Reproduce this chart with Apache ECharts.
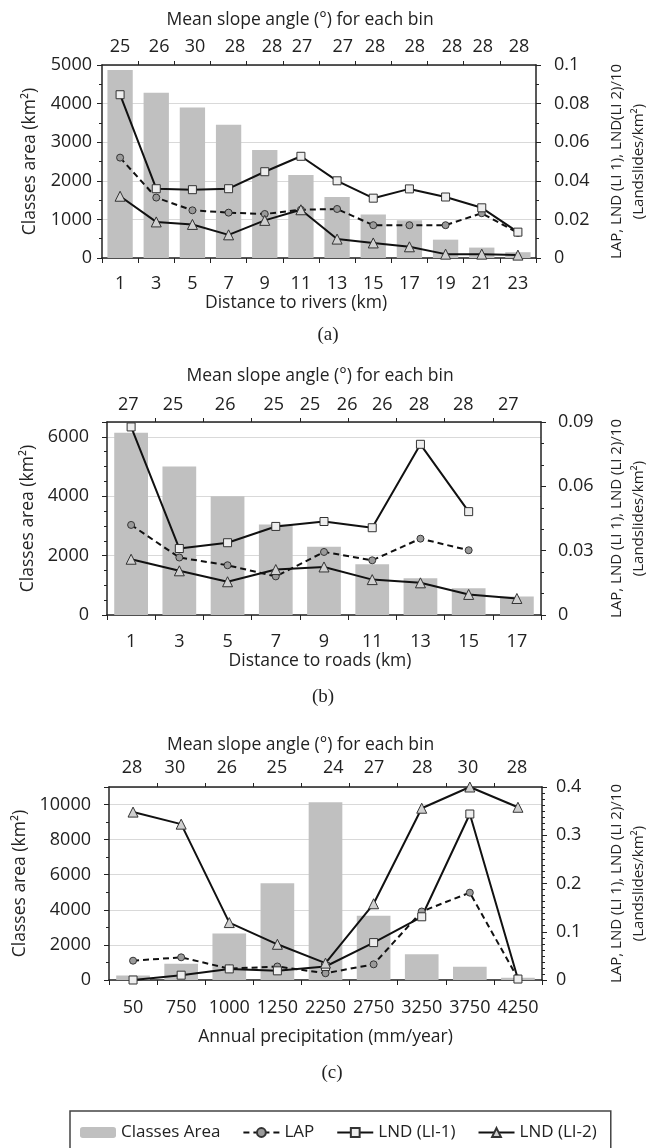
<!DOCTYPE html>
<html lang="en">
<head>
<meta charset="UTF-8">
<title>Classes area and landslide density per bin</title>
<script src="https://cdn.jsdelivr.net/npm/echarts@6/dist/echarts.min.js"></script>
<style>
    html, body { margin: 0; padding: 0; background: #fff; }
    #main { width: 659px; height: 1148px; }
</style>
</head>
<body>
<div id="main"></div>
<script type="text/javascript">
    // (a) distance to rivers
    var riverKm = ['1', '3', '5', '7', '9', '11', '13', '15', '17', '19', '21', '23'];
    var riverArea = [4870, 4280, 3900, 3450, 2800, 2150, 1580, 1130, 980, 475, 270, 150];
    var riverLAP = [0.052, 0.0313, 0.0247, 0.0235, 0.0228, 0.025, 0.0254, 0.017, 0.017, 0.017, 0.0232, 0.013];
    var riverLI1 = [0.0846, 0.0359, 0.0354, 0.0359, 0.0447, 0.0527, 0.040, 0.031, 0.0358, 0.0316, 0.026, 0.0134];
    var riverLI2 = [0.032, 0.0187, 0.0174, 0.012, 0.0195, 0.025, 0.0098, 0.0078, 0.0058, 0.002, 0.002, 0.0015];
    var riverSlope = ['25', '26', '30', '28', '28', '27', '27', '28', '28', '28', '28', '28'];
    var riverSlopePos = [0.5, 1.58, 2.57, 3.68, 4.7, 5.53, 6.66, 7.55, 8.65, 9.68, 10.53, 11.53];

    // (b) distance to roads
    var roadKm = ['1', '3', '5', '7', '9', '11', '13', '15', '17'];
    var roadArea = [6140, 5000, 4000, 3050, 2300, 1710, 1240, 900, 620];
    var roadLAP = [0.042, 0.0268, 0.0232, 0.018, 0.0294, 0.0255, 0.0356, 0.0302, null];
    var roadLI1 = [0.0877, 0.031, 0.0337, 0.0413, 0.0436, 0.0407, 0.0796, 0.0482, null];
    var roadLI2 = [0.026, 0.0206, 0.0155, 0.0212, 0.0224, 0.0165, 0.015, 0.0096, 0.0077];
    var roadSlope = ['27', '25', '26', '25', '25', '26', '26', '28', '28', '27'];
    var roadSlopePos = [0.44, 1.37, 2.45, 3.46, 4.21, 4.98, 5.71, 6.47, 7.39, 8.32];

    // (c) annual precipitation
    var rainMm = ['50', '750', '1000', '1250', '2250', '2750', '3250', '3750', '4250'];
    var rainArea = [250, 920, 2650, 5520, 10130, 3660, 1470, 760, 130];
    var rainLAP = [0.040, 0.047, 0.0235, 0.028, 0.014, 0.0325, 0.142, 0.181, 0.003];
    var rainLI1 = [0, 0.010, 0.023, 0.019, 0.028, 0.0775, 0.131, 0.344, 0.002];
    var rainLI2 = [0.348, 0.323, 0.119, 0.074, 0.035, 0.158, 0.356, 0.4, 0.358];
    var rainSlope = ['28', '30', '26', '25', '24', '27', '28', '30', '28'];
    var rainSlopePos = [0.48, 1.37, 2.45, 3.49, 4.66, 5.51, 6.51, 7.46, 8.48];

    var FONT = '"Open Sans", sans-serif';
    var INK = '#222';
    var TICK_FS = 18;
    var NAME_FS = 17.5;

    var chartDom = document.getElementById('main');
    var myChart = echarts.init(chartDom, null, {renderer: 'canvas'});

    var grid = [], xAxis = [], yAxis = [], series = [];

    function addPanel(p) {
        var gi = grid.length;
        grid.push({left: p.left, right: 659 - p.right, top: p.top, height: 193});

        var bounds = [];
        for (var i = 1; i < p.cats.length; i++) bounds.push(i);

        var xb = xAxis.length;
        xAxis.push({
            type: 'category', gridIndex: gi, position: 'bottom', data: p.cats,
            axisLine: {onZero: false, lineStyle: {color: INK, width: 1.5}},
            axisTick: {show: true, length: 5, lineStyle: {color: INK}},
            axisLabel: {interval: 0, margin: p.labelGap, fontSize: TICK_FS, color: INK, fontFamily: FONT},
            name: p.xName, nameLocation: 'middle', nameGap: p.xNameGap,
            nameTextStyle: {fontSize: NAME_FS, color: INK, fontFamily: FONT, padding: [0, p.xNameShift, 0, 0]}
        });
        xAxis.push({
            type: 'value', gridIndex: gi, position: 'top', min: 0, max: p.cats.length,
            axisLine: {show: true, onZero: false, lineStyle: {color: INK, width: 1.5}},
            axisTick: {show: true, length: 4, customValues: bounds, lineStyle: {color: INK}},
            splitLine: {show: false},
            axisLabel: {
                customValues: p.slopePos, margin: p.topGap, fontSize: TICK_FS, color: INK, fontFamily: FONT,
                formatter: function (v) {
                    var best = 0;
                    for (var k = 0; k < p.slopePos.length; k++) {
                        if (Math.abs(p.slopePos[k] - v) < Math.abs(p.slopePos[best] - v)) best = k;
                    }
                    return p.slope[best];
                }
            },
            name: 'Mean slope angle (°) for each bin', nameLocation: 'middle', nameGap: p.titleGap,
            nameTextStyle: {fontSize: NAME_FS, color: INK, fontFamily: FONT, padding: [0, p.titleShift, 0, 0]}
        });

        var yl = yAxis.length;
        yAxis.push({
            type: 'value', gridIndex: gi, position: 'left', min: 0, max: p.areaMax, interval: p.areaStep,
            axisLine: {show: true, onZero: false, lineStyle: {color: INK, width: 1.5}},
            axisTick: {show: true, length: 5, lineStyle: {color: INK}},
            minorTick: {show: true, splitNumber: p.areaMinor, length: 3, lineStyle: {color: INK}},
            splitLine: {show: true, lineStyle: {color: '#d9d9d9', width: 1}},
            axisLabel: {
                margin: p.leftGap, fontSize: TICK_FS, color: INK, fontFamily: FONT, showMaxLabel: p.showAreaMax,
                formatter: function (v) { return String(v); }
            },
            name: 'Classes area (km²)', nameLocation: 'middle', nameGap: p.leftNameGap,
            nameTextStyle: {fontSize: NAME_FS, color: INK, fontFamily: FONT}
        });
        yAxis.push({
            type: 'value', gridIndex: gi, position: 'right', min: 0, max: p.densMax, interval: p.densStep,
            axisLine: {show: true, onZero: false, lineStyle: {color: INK, width: 1.5}},
            axisTick: {show: true, length: 5, lineStyle: {color: INK}},
            minorTick: {show: true, splitNumber: p.densMinor, length: 3, lineStyle: {color: INK}},
            splitLine: {show: false},
            axisLabel: {margin: p.rightGap, fontSize: TICK_FS, color: INK, fontFamily: FONT},
            name: p.rightName, nameLocation: 'middle', nameGap: p.rightNameGap,
            nameTextStyle: {fontSize: 15, lineHeight: 22, color: INK, fontFamily: FONT}
        });

        series.push({
            type: 'bar', name: 'Classes Area', xAxisIndex: xb, yAxisIndex: yl,
            data: p.area, barCategoryGap: '30%',
            itemStyle: {color: '#c0c0c0'}
        });
        series.push({
            type: 'line', name: 'LAP', xAxisIndex: xb, yAxisIndex: yl + 1,
            data: p.lap, symbol: 'circle', symbolSize: 7, clip: false, z: 4,
            lineStyle: {color: '#111', width: 2, type: [6, 4]},
            itemStyle: {color: '#9a9a9a', borderColor: '#333', borderWidth: 1}
        });
        series.push({
            type: 'line', name: 'LND (LI-1)', xAxisIndex: xb, yAxisIndex: yl + 1,
            data: p.li1, symbol: 'rect', symbolSize: 8, clip: false, z: 4,
            lineStyle: {color: '#111', width: 2},
            itemStyle: {color: '#eeeeee', borderColor: '#333', borderWidth: 1}
        });
        series.push({
            type: 'line', name: 'LND (LI-2)', xAxisIndex: xb, yAxisIndex: yl + 1,
            data: p.li2, symbol: 'triangle', symbolSize: 10, clip: false, z: 4,
            lineStyle: {color: '#111', width: 2},
            itemStyle: {color: '#d0d0d0', borderColor: '#333', borderWidth: 1}
        });
    }

    addPanel({
        left: 102, right: 536, top: 65, cats: riverKm, area: riverArea,
        lap: riverLAP, li1: riverLI1, li2: riverLI2, slope: riverSlope, slopePos: riverSlopePos,
        xName: 'Distance to rivers (km)', xNameGap: 35, xNameShift: 46, labelGap: 17,
        topGap: 9, titleGap: 36, titleShift: 38,
        areaMax: 5000, areaStep: 1000, areaMinor: 2, showAreaMax: true, leftGap: 10, leftNameGap: 63,
        densMax: 0.1, densStep: 0.02, densMinor: 2, rightGap: 18, rightNameGap: 70,
        rightName: 'LAP, LND (LI 1), LND(LI 2)/10\n(Landslides/km²)'
    });
    addPanel({
        left: 107, right: 541, top: 422, cats: roadKm, area: roadArea,
        lap: roadLAP, li1: roadLI1, li2: roadLI2, slope: roadSlope, slopePos: roadSlopePos,
        xName: 'Distance to roads (km)', xNameGap: 31, xNameShift: 8, labelGap: 18,
        topGap: 8, titleGap: 37, titleShift: 8,
        areaMax: 6500, areaStep: 2000, areaMinor: 4, showAreaMax: false, leftGap: 18, leftNameGap: 64,
        densMax: 0.09, densStep: 0.03, densMinor: 3, rightGap: 17, rightNameGap: 65,
        rightName: 'LAP, LND (LI 1), LND (LI 2)/10\n(Landslides/km²)'
    });
    addPanel({
        left: 109, right: 542, top: 787, cats: rainMm, area: rainArea,
        lap: rainLAP, li1: rainLI1, li2: rainLI2, slope: rainSlope, slopePos: rainSlopePos,
        xName: 'Annual precipitation (mm/year)', xNameGap: 48, xNameShift: 0, labelGap: 19,
        topGap: 10, titleGap: 33, titleShift: 50,
        areaMax: 11000, areaStep: 2000, areaMinor: 2, showAreaMax: false, leftGap: 18, leftNameGap: 75,
        densMax: 0.4, densStep: 0.1, densMinor: 8, rightGap: 14, rightNameGap: 64,
        rightName: 'LAP, LND (LI 1), LND (LI 2)/10\n(Landslides/km²)'
    });

    function caption(text, x, y) {
        return {
            type: 'text', x: x, y: y,
            style: {text: text, align: 'center', verticalAlign: 'middle',
                fontSize: 19, fontFamily: '"Liberation Serif", serif', fill: INK}
        };
    }

    var option = {
        animation: false,
        grid: grid,
        xAxis: xAxis,
        yAxis: yAxis,
        series: series,
        legend: {
            left: 70, top: 1111,
            padding: [13, 14, 12, 10],
            borderColor: '#444', borderWidth: 1.5,
            itemWidth: 36, itemHeight: 11, itemGap: 22,
            textStyle: {fontSize: 17, color: INK, fontFamily: FONT},
            data: ['Classes Area', 'LAP', 'LND (LI-1)', 'LND (LI-2)']
        },
        graphic: [
            caption('(a)', 328, 335),
            caption('(b)', 323, 697),
            caption('(c)', 332, 1073)
        ]
    };

    myChart.setOption(option);
</script>
</body>
</html>
